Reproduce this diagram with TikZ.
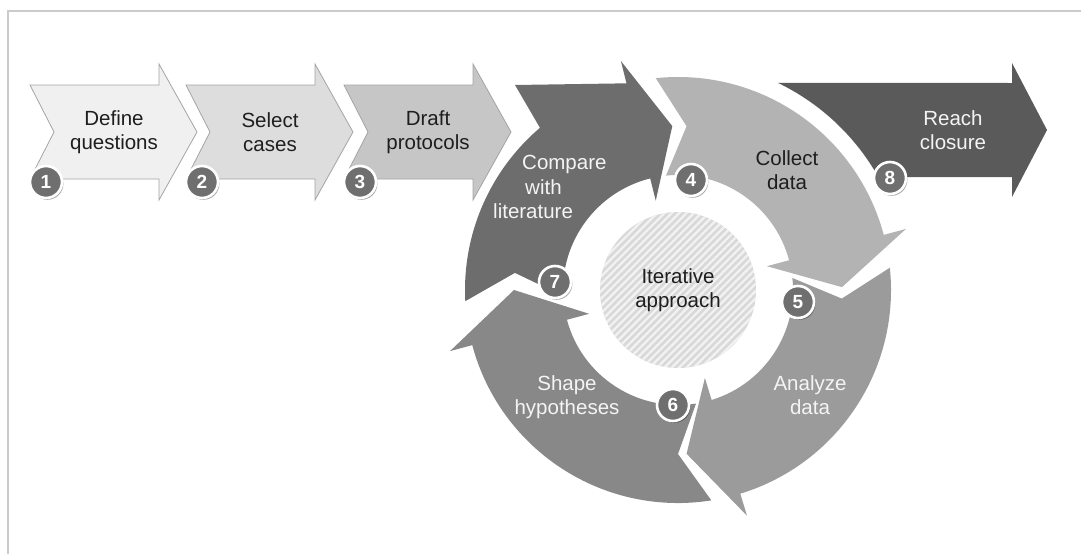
\documentclass[tikz,border=0pt]{standalone}
\usepackage{fontspec}
\setmainfont{Liberation Sans}
\usetikzlibrary{shadows,patterns.meta}

\definecolor{frameGray}{HTML}{CBCBCB}
\definecolor{chevEdge}{HTML}{A4A4A4}
\definecolor{chevA}{HTML}{F0F0F0}
\definecolor{chevB}{HTML}{DDDDDD}
\definecolor{chevC}{HTML}{C6C6C6}
\definecolor{compareGray}{HTML}{6D6D6D}
\definecolor{collectGray}{HTML}{B3B3B3}
\definecolor{analyzeGray}{HTML}{9B9B9B}
\definecolor{shapeGray}{HTML}{888888}
\definecolor{closureGray}{HTML}{5A5A5A}
\definecolor{badgeGray}{HTML}{6F6F6F}
\definecolor{hatchBg}{HTML}{D9D9D9}
\definecolor{hatchLine}{HTML}{F3F3F3}
\definecolor{textDark}{HTML}{1E1E1E}
\definecolor{textLight}{HTML}{F4F4F4}

\tikzset{
  chevron/.style={draw=chevEdge, line width=0.8pt},
  lbl/.style={align=center, inner sep=0pt, text=textDark,
    font=\fontsize{20.5}{24.5}\selectfont},
  lbllight/.style={lbl, text=textLight},
  badge/.style={circle, fill=badgeGray, draw=white, line width=2.6pt,
    minimum size=32pt, inner sep=0pt, text=white,
    font=\fontsize{19}{19}\selectfont\bfseries,
    drop shadow={shadow xshift=1.4pt, shadow yshift=-1.8pt, opacity=0.35, fill=black}}
}

\begin{document}
\begin{tikzpicture}[x=1pt, y=-1pt]
    \useasboundingbox (0,0) rectangle (1081,554);
    % --- frame ---
    \draw[frameGray, line width=2pt] (8,554) -- (8,11) -- (1081,11);

    % --- 1. Linear steps (chevrons) ---
    \foreach \L/\col in {30/chevA, 186/chevB, 344/chevC} {
        \filldraw[chevron, fill=\col] (\L,85) -- ({\L+129},85) -- ({\L+129},64)
            -- ({\L+167},132) -- ({\L+129},200) -- ({\L+129},179)
            -- (\L,179) -- ({\L+24},132) -- cycle;
    }
    \node[lbl] (define) at (114,132) {Define\\questions};
    \node[lbl] (select) at (270,132) {Select\\cases};
    \node[lbl] (draft) at (428,132) {Draft\\protocols};

    % --- 2. Iterative cycle ---
    \begin{scope}[shift={(678,290)}, y=1pt]
        % Reach closure (exit arrow)
        \fill[closureGray] (64.2:230) -- (334,207) -- (334,227) -- (369,160)
            -- (334,93) -- (334,113) -- (29.4:230)
            arc[start angle=29.4, end angle=64.2, radius=230] -- cycle;
        % Collect / Analyze / Shape
        \foreach \s/\e/\t/\col in {96/15/1/collectGray, 6/-73/-87/analyzeGray,
                                   -81/-165/-180/shapeGray} {
            \fill[\col] (\s:213) arc[start angle=\s, end angle=\e, radius=213]
                -- (\e:236) -- (\t:164) -- (\e:92) -- (\e:115)
                arc[start angle=\e, end angle=\s, radius=115]
                -- ({\s-9}:164) -- cycle;
        }
        % Compare with literature (joins the chevron row)
        \fill[compareGray] (183:213) arc[start angle=183, end angle=130.4, radius=213]
            -- (-163,205) -- (104:213) -- (104:236) -- (92:164) -- (104:92)
            -- (104:115) arc[start angle=104, end angle=183, radius=115]
            -- (174:164) -- cycle;
        % Hub
        \fill[hatchBg] (0,0) circle[radius=78];
        \fill[pattern={Lines[angle=45, distance=5.2pt, line width=2.2pt]},
              pattern color=hatchLine] (0,0) circle[radius=78];
    \end{scope}

    \node[lbl] (hub) at (678,290) {Iterative\\approach};
    \node[lbl] (collect) at (787,170) {Collect\\data};
    \node[lbllight] (analyze) at (810,395) {Analyze\\data};
    \node[lbllight] (shape) at (567,397) {Shape\\hypotheses};
    \node[lbllight, align=left, anchor=west] (compare) at (493,187)
        {\hspace*{29pt}Compare\\\hspace*{32pt}with\\literature};
    \node[lbllight] (closure) at (953,130) {Reach\\closure};

    % --- 3. Step numbers ---
    \node[badge] (n1) at (46,182) {1};
    \node[badge] (n2) at (202,182) {2};
    \node[badge] (n3) at (360,182) {3};
    \node[badge] (n4) at (691,180) {4};
    \node[badge] (n5) at (798,302) {5};
    \node[badge] (n6) at (673,405) {6};
    \node[badge] (n7) at (555,282) {7};
    \node[badge] (n8) at (890,178) {8};
\end{tikzpicture}
\end{document}
